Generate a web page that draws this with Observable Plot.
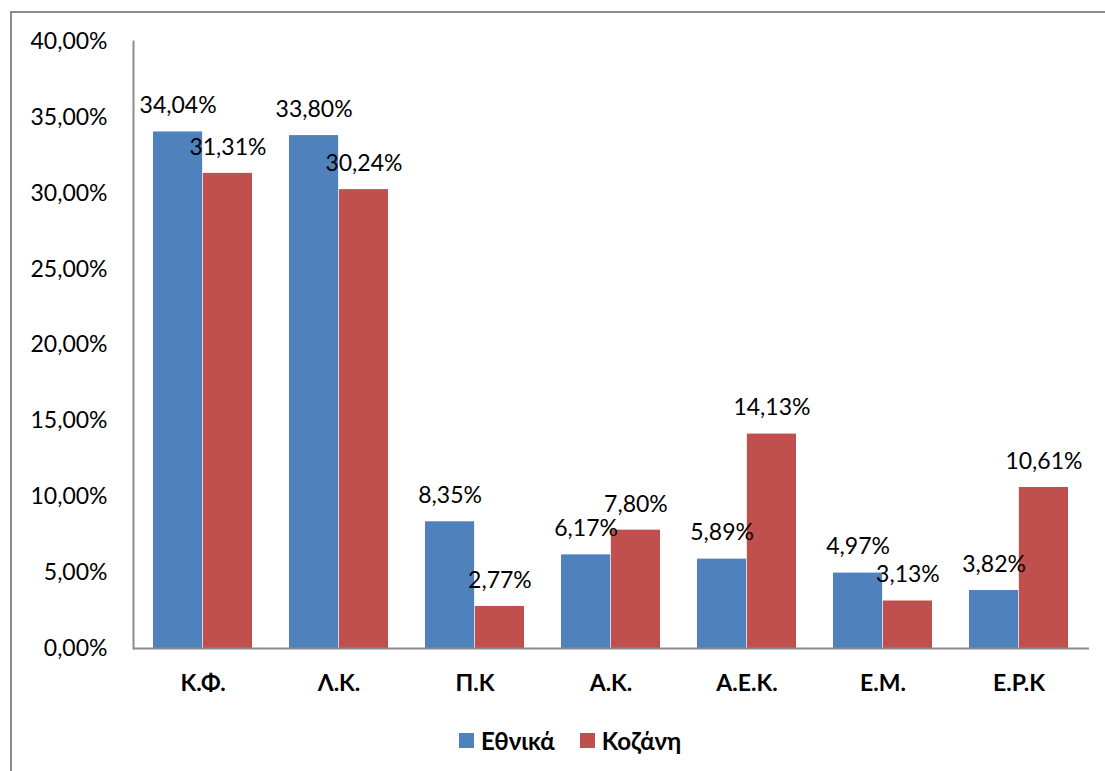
<!DOCTYPE html>
<html>
<head>
<meta charset="utf-8">
<script src="https://cdn.jsdelivr.net/npm/d3@7"></script>
<script src="https://cdn.jsdelivr.net/npm/@observablehq/plot@0.6"></script>
<style>
  html, body { margin: 0; padding: 0; background: #fff; overflow: hidden; }
  body { width: 1105px; height: 771px; position: relative; font-family: Lato, "Open Sans", sans-serif; }
  #border { position: absolute; left: 10px; top: 11px; width: 1200px; height: 900px; border: 2px solid #8c8c8c; pointer-events: none; }
  #chart { position: absolute; left: 0; top: 0; }
  #legend { position: absolute; left: 459px; top: 726px; display: flex; align-items: center; font-weight: bold; font-size: 24px; color: #000; }
  #legend .sw { width: 15px; height: 15px; display: inline-block; margin-right: 7px; }
  #legend .item { display: flex; align-items: center; margin-right: 25px; }
</style>
</head>
<body>
<div id="border"></div>
<div id="chart"></div>
<div id="legend"></div>
<script>
const categories = ["Κ.Φ.", "Λ.Κ.", "Π.Κ", "Α.Κ.", "Α.Ε.Κ.", "Ε.Μ.", "Ε.Ρ.Κ"];
const ethnika = [34.04, 33.80, 8.35, 6.17, 5.89, 4.97, 3.82];
const kozani = [31.31, 30.24, 2.77, 7.80, 14.13, 3.13, 10.61];
const seriesNames = ["Εθνικά", "Κοζάνη"];
const yTicks = [0, 5, 10, 15, 20, 25, 30, 35, 40];

const colors = ["#4F81BD", "#C0504D"];
const fmt = v => v.toFixed(2).replace(".", ",") + "%";

const data = categories.map((c, i) => ({cat: c, a: ethnika[i], b: kozani[i]}));

const W = 1105, H = 715, ML = 133, MR = 16, MT = 41, MB = 67;
const padIn = 0.27, padOut = 0.135;
const step = (W - ML - MR) / (categories.length - padIn + 2 * padOut);
const bw = step * (1 - padIn);
const half = bw / 2;

const chart = Plot.plot({
  width: W, height: H,
  marginLeft: ML, marginRight: MR, marginTop: MT, marginBottom: MB,
  style: {fontFamily: "Lato, 'Open Sans', sans-serif", fontSize: "23px", color: "#000", background: "transparent"},
  x: {type: "band", domain: categories, paddingInner: padIn, paddingOuter: padOut, axis: null, label: null},
  y: {domain: [0, 40], axis: null, label: null},
  marks: [
    Plot.barY(data, {x: "cat", y: "a", fill: colors[0], insetRight: half, insetLeft: 0}),
    Plot.barY(data, {x: "cat", y: "b", fill: colors[1], insetLeft: half, insetRight: 0}),
    Plot.text(data, {x: "cat", y: "a", text: d => fmt(d.a), dx: -half / 2, dy: -26, fill: "#000", fontSize: 23}),
    Plot.text(data, {x: "cat", y: "b", text: d => fmt(d.b), dx: half / 2, dy: -26, fill: "#000", fontSize: 23}),
    Plot.axisY({ticks: yTicks, tickSize: 0, tickPadding: 26, tickFormat: fmt, fontSize: 23, label: null}),
    Plot.axisX({tickSize: 0, tickPadding: 26, fontWeight: "bold", fontSize: 23, label: null}),
    Plot.ruleY([0], {stroke: "#8c8c8c", strokeWidth: 2}),
    Plot.frame({anchor: "left", stroke: "#8c8c8c", strokeWidth: 2})
  ]
});
document.getElementById("chart").appendChild(chart);

const legend = document.getElementById("legend");
seriesNames.forEach((n, i) => {
  const item = document.createElement("div");
  item.className = "item";
  const sw = document.createElement("span");
  sw.className = "sw";
  sw.style.background = colors[i];
  const t = document.createElement("span");
  t.textContent = n;
  item.appendChild(sw);
  item.appendChild(t);
  legend.appendChild(item);
});
</script>
</body>
</html>
